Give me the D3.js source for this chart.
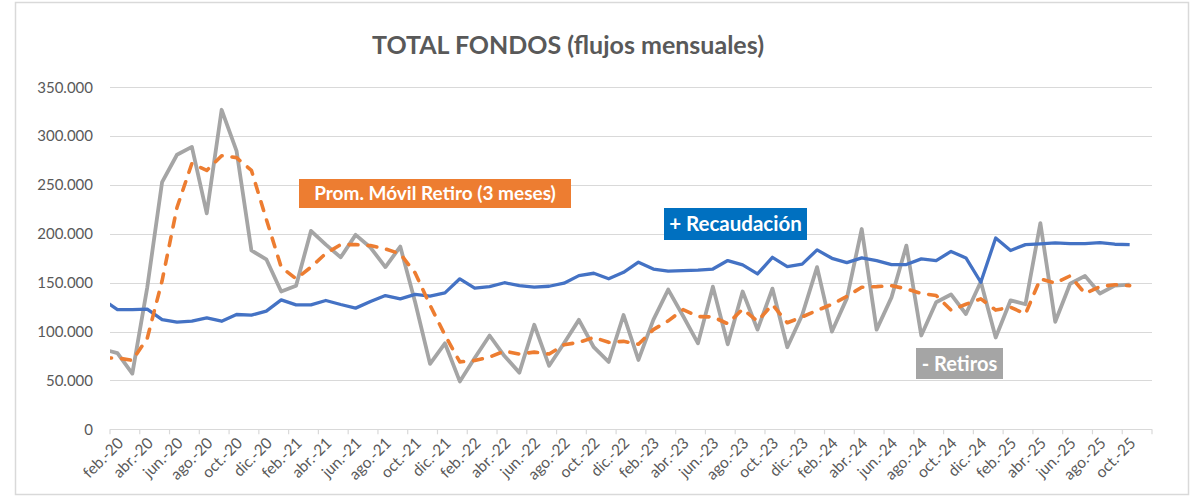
<!DOCTYPE html>
<html>
<head>
<meta charset="utf-8">
<script src="https://cdn.jsdelivr.net/npm/d3@7"></script>
<style>
  body { margin: 0; background: #fff; }
  svg { display: block; font-family: Lato, "Open Sans", sans-serif; }
</style>
</head>
<body>
<div id="chart"></div>
<script>
// months from ene.-20 (partly hidden at the left edge, as in the original) to nov.-25
const mesesNombre = ['ene.', 'feb.', 'mar.', 'abr.', 'may.', 'jun.', 'jul.', 'ago.', 'sep.', 'oct.', 'nov.', 'dic.'];
const meses = [];
for (let a = 20; a <= 25; a++) {
    mesesNombre.forEach(m => meses.push(m + '-' + a));
}
meses.splice(71);

// values in thousands, ene.-20 ... oct.-25
const recaudacion = [133, 122.5, 122.5, 123, 112.3, 109.6, 110.6, 114, 110.6, 117.5, 116.8, 121,
    132.5, 127.3, 127.3, 131.8, 127.7, 124, 130.7, 136.9, 133.5, 138, 136.2, 139.6,
    154, 144.4, 146, 150, 147, 145.4, 146.4, 149.5, 157.3, 159.7, 154, 160.7,
    171, 164, 161.8, 162.4, 163, 164, 172.7, 168.2, 159, 176, 166.5, 169,
    183.6, 175, 170.6, 175.4, 172.7, 168.6, 168.6, 174.4, 172.7, 182, 175.4, 150.5,
    195.8, 183, 189, 189.7, 190.7, 190, 190, 191, 189.4, 189];

const retiros = [82, 78, 57, 145, 253, 281, 289, 221, 327, 285, 183, 174,
    141, 147, 203, 189, 176, 199, 186, 166, 187, 130, 67, 88,
    49, 73, 96, 75, 58, 107, 65, 88, 112, 84, 69, 117,
    71, 112, 143, 116, 88, 146, 87, 141, 102, 144, 84, 117,
    166, 100, 134, 205, 102, 135, 188, 96, 130, 138, 118, 151,
    94, 132, 128, 211, 110, 149, 157, 139, 147, 148];

const promMovil = [73, 73, 70.5, 93, 152, 227, 272, 265, 280, 278, 265, 215,
    166, 154, 166, 180, 189, 189, 188, 184.6, 179.5, 160, 127, 96.5,
    69, 70.4, 74, 80, 77, 79, 77, 86.5, 89, 94, 89, 90,
    87, 102, 111, 122.5, 115.4, 115, 108, 123, 110.6, 127.7, 109, 115,
    121.6, 128, 136, 145.4, 146, 147, 143.7, 139, 137, 122, 128, 133.5,
    122, 125, 118, 154, 149.5, 157, 139, 146, 148, 147];

const yTicks = [0, 50000, 100000, 150000, 200000, 250000, 300000, 350000];

const w = 1204;
const h = 499;
const mLeft = 110, mRight = 1152, mTop = 87.3, mBottom = 429.3;

const svg = d3.select('#chart').append('svg').attr('width', w).attr('height', h);

svg.append('rect').attr('width', w).attr('height', h).attr('fill', '#fff');
svg.append('rect')
    .attr('x', 15.5).attr('y', 2.5).attr('width', 1173).attr('height', 492)
    .attr('fill', 'none').attr('stroke', '#d9d9d9').attr('stroke-width', 1.5);

// slot k covers [k, k+1]; index 0 = ene.-20 sits left of the plot
const xScale = d3.scaleLinear().domain([1, 71]).range([mLeft, mRight]);
const yScale = d3.scaleLinear().domain([0, 350000]).range([mBottom, mTop]);

const fmt = d3.formatLocale({ decimal: ',', thousands: '.', grouping: [3], currency: ['', ''] }).format(',');

// grid
svg.append('g').selectAll('line')
    .data(yTicks)
    .enter()
    .append('line')
    .attr('x1', mLeft).attr('x2', mRight)
    .attr('y1', d => Math.round(yScale(d)) + 0.5).attr('y2', d => Math.round(yScale(d)) + 0.5)
    .attr('stroke', '#d9d9d9').attr('stroke-width', 1.2);

svg.append('g').selectAll('text')
    .data(yTicks)
    .enter()
    .append('text')
    .attr('x', 93).attr('y', d => yScale(d)).attr('dy', '0.35em')
    .attr('text-anchor', 'end')
    .attr('font-size', 15).attr('fill', '#595959')
    .text(d => fmt(d));

// x ticks every 2 months
const tickPos = d3.range(1, 72, 2);
svg.append('g').selectAll('line')
    .data(tickPos)
    .enter()
    .append('line')
    .attr('x1', d => xScale(d)).attr('x2', d => xScale(d))
    .attr('y1', mBottom).attr('y2', mBottom + 5)
    .attr('stroke', '#d9d9d9').attr('stroke-width', 1.2);

const labelIdx = d3.range(1, 70, 2);
svg.append('g').selectAll('text')
    .data(labelIdx)
    .enter()
    .append('text')
    .attr('transform', d => `translate(${xScale(d + 0.5) + 3},${mBottom + 11}) rotate(-45)`)
    .attr('dy', '0.35em')
    .attr('text-anchor', 'end')
    .attr('font-size', 15.5).attr('fill', '#595959')
    .text(d => meses[d]);

// lines
svg.append('clipPath').attr('id', 'plot')
    .append('rect').attr('x', mLeft).attr('y', 0).attr('width', mRight - mLeft).attr('height', h);

const line = d3.line()
    .x((d, i) => xScale(i + 0.5))
    .y(d => yScale(d * 1000));

const lines = svg.append('g').attr('clip-path', 'url(#plot)');

lines.append('path')
    .attr('d', line(retiros))
    .attr('fill', 'none').attr('stroke', '#a5a5a5').attr('stroke-width', 3.8)
    .attr('stroke-linejoin', 'round');

lines.append('path')
    .attr('d', line(recaudacion))
    .attr('fill', 'none').attr('stroke', '#4472c4').attr('stroke-width', 3.3)
    .attr('stroke-linejoin', 'round');

lines.append('path')
    .attr('d', line(promMovil))
    .attr('fill', 'none').attr('stroke', '#ed7d31').attr('stroke-width', 3.6)
    .attr('stroke-dasharray', '9,10').attr('stroke-linecap', 'round')
    .attr('stroke-linejoin', 'round');

// title
svg.append('text')
    .attr('x', 568).attr('y', 54)
    .attr('text-anchor', 'middle')
    .attr('font-size', 25).attr('font-weight', 'bold').attr('fill', '#595959')
    .text('TOTAL FONDOS (flujos mensuales)');

// series labels
const etiquetas = [
    { text: 'Prom. Móvil Retiro (3 meses)', x: 299, y: 179, w: 272, h: 29, fill: '#ed7d31', size: 19 },
    { text: '+ Recaudación', x: 664, y: 208, w: 143, h: 32, fill: '#0070c0', size: 20.5 },
    { text: '- Retiros', x: 916, y: 348, w: 87, h: 31, fill: '#a5a5a5', size: 20 }
];

const tags = svg.append('g').selectAll('g')
    .data(etiquetas)
    .enter()
    .append('g');

tags.append('rect')
    .attr('x', d => d.x).attr('y', d => d.y)
    .attr('width', d => d.w).attr('height', d => d.h)
    .attr('fill', d => d.fill);

tags.append('text')
    .attr('x', d => d.x + d.w / 2).attr('y', d => d.y + d.h / 2)
    .attr('dy', '0.36em')
    .attr('text-anchor', 'middle')
    .attr('font-size', d => d.size).attr('font-weight', 'bold').attr('fill', '#fff')
    .text(d => d.text);
</script>
</body>
</html>
